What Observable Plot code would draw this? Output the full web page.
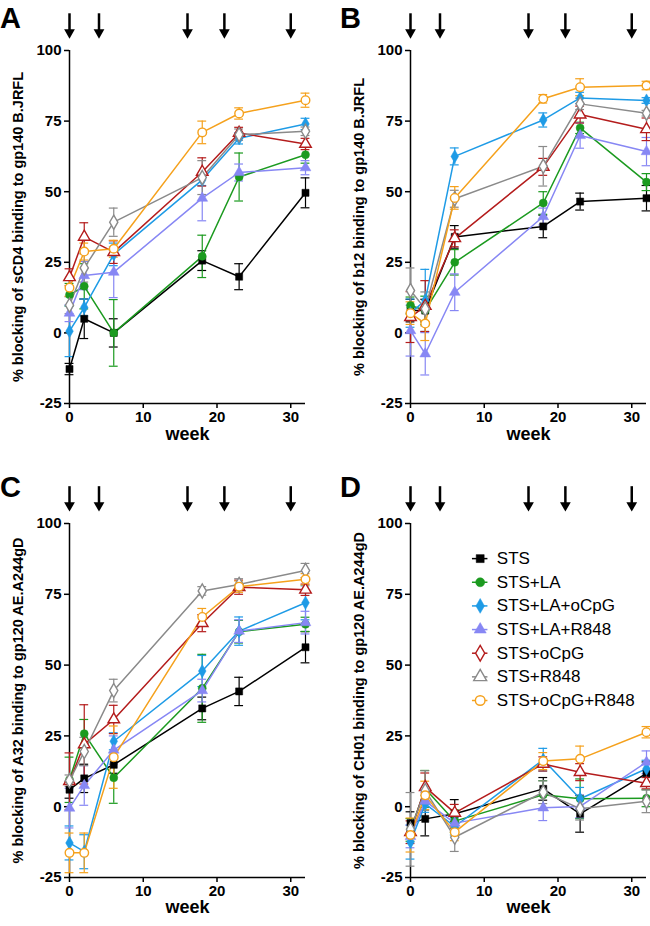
<!DOCTYPE html>
<html>
<head>
<meta charset="utf-8">
<script src="https://cdn.jsdelivr.net/npm/d3@7"></script>
<script src="https://cdn.jsdelivr.net/npm/@observablehq/plot@0.6"></script>
<style>
  html, body { margin: 0; padding: 0; background: #fff; }
  #wrap { position: relative; width: 650px; height: 926px; background: #fff; overflow: hidden; }
  .panel { position: absolute; }
  .letter { position: absolute; font-family: "Liberation Sans", Arial, sans-serif; font-weight: bold; font-size: 29px; line-height: 29px; color: #000; }
</style>
</head>
<body>
<div id="wrap"></div>
<script>
const weeks = [0, 2, 6, 18, 23, 32];
const groups = ["STS", "STS+LA", "STS+LA+oCpG", "STS+LA+R848", "STS+oCpG", "STS+R848", "STS+oCpG+R848"];
const colors = ["#000000", "#1b9a1f", "#1e9be6", "#8787f4", "#b41c1c", "#8a8a8a", "#f5a11c"];
const plotSymbols = ["square", "circle", "diamond", "triangle", "triangle", "diamond", "circle"];
const legendSymbols = ["square", "circle", "diamond", "triangle", "diamond", "triangle", "circle"];
const filled = [true, true, true, true, false, false, false];
const arrowWeeks = [0, 4, 16, 21, 30];
const xTicks = [0, 10, 20, 30];
const yTicks = [-25, 0, 25, 50, 75, 100];
const panelLetters = ["A", "B", "C", "D"];
const yLabels = [
  "% blocking of sCD4 binding to gp140 B.JRFL",
  "% blocking of b12 binding to gp140 B.JRFL",
  "% blocking of A32 binding to gp120 AE.A244gD",
  "% blocking of CH01 binding to gp120 AE.A244gD"
];

// means (rows follow groups, columns follow weeks)
const meanA = [
  [-12.8, 5, 0, 25.6, 19.9, 49.6],
  [13.5, 16.5, 0, 27.1, 55.2, 63.1],
  [0.6, 9, 27.8, 54.2, 68.9, 74],
  [7, 20.3, 21.5, 47.7, 56.8, 58.5],
  [19.7, 34, 28.6, 57, 70.8, 66.9],
  [9.8, 23, 39.2, 55, 70.2, 71.4],
  [16, 28.8, 29.8, 71, 77.7, 82.4]
];
const errA = [
  [2, 7, 5, 3.5, 4.6, 5.3],
  [4, 8, 11.8, 7.5, 8.5, 3],
  [9, 3, 4, 2, 2, 2],
  [3, 5, 9, 8, 3, 2.5],
  [3, 5, 4, 5, 2, 2],
  [3, 5, 5, 6, 2, 1.5],
  [3, 3, 3, 4, 2, 2.5]
];
const meanB = [
  [7.9, 7.9, 34, 37.7, 46.5, 47.7],
  [9.7, 8, 25, 46, 72.6, 53.4],
  [7, 11.5, 62.5, 75.4, 83.2, 82.3],
  [0.8, -7.4, 14.4, 41.2, 69.9, 64.2],
  [5.6, 9.5, 33.5, 58.8, 77.3, 72.1],
  [15, 8.5, 47.5, 59, 81.1, 77.8],
  [7, 3.3, 47.8, 82.9, 87, 87.6]
];
const errB = [
  [4, 4, 4, 4, 3, 4.5],
  [3, 5, 4.5, 4, 2, 3],
  [5, 11, 3, 2.5, 2, 1],
  [9, 7.5, 6.5, 3, 4.5, 5],
  [9, 9, 3, 3, 3, 4],
  [8, 6, 3, 7, 2, 1],
  [4, 6, 4, 1.5, 3, 1.5]
];
const meanC = [
  [6, 10, 14.8, 34.7, 40.7, 56.3],
  [9.5, 25.8, 10.2, 41.8, 61.8, 64.4],
  [-12.8, -15.9, 23.1, 47.9, 62, 72],
  [-0.5, 7.5, 20, 41, 62, 65],
  [9, 22, 30.8, 64.8, 77.5, 76.6],
  [9.2, 19.5, 41, 76.2, 78.5, 83.4],
  [-16.3, -16.3, 17.5, 67, 77.7, 80.3]
];
const errC = [
  [3, 5, 3, 4, 5, 5.5],
  [8, 5, 9, 12, 4, 2.5],
  [6, 6, 3, 5.5, 5, 6],
  [7, 7, 5, 4, 4, 4],
  [10, 14, 5, 3, 2.5, 2],
  [2, 5, 4, 1.5, 2, 2.5],
  [7, 7, 11, 3, 2, 2]
];
const meanD = [
  [-5.8, -4.3, -2.5, 6.3, -2.5, 11.8],
  [-8.2, 6.3, -5.1, 4.2, 2.8, 3],
  [-12.5, 1, -7, 16.6, 2.8, 13.4],
  [-10.5, 2, -5.8, -0.4, 0.1, 15.7],
  [-9, 6.9, -2.2, 15.1, 12.2, 8.3],
  [-8, 5.7, -10.8, 5.1, -0.7, 1.9],
  [-10, 4, -9, 16.1, 16.9, 26.3]
];
const errD = [
  [4, 6, 5, 4, 6.5, 4],
  [4, 6.5, 4, 5, 7, 3],
  [6, 3, 3, 4, 4, 3],
  [4, 3, 3, 4.5, 4, 4],
  [4, 5, 3, 2.5, 3, 2],
  [13, 7, 5, 4, 4, 4],
  [6, 5, 3, 3, 4.5, 2]
];

const means = [meanA, meanB, meanC, meanD];
const errs = [errA, errB, errC, errD];

// layout of the four panels
const layouts = [
  {left: 0,   top: 0,   width: 325, height: 460, ml: 69, mr: 20, mt: 50, mb: 57, weekDy: 36, letterLeft: 0,   letterTop: 3.5},
  {left: 325, top: 0,   width: 325, height: 460, ml: 85, mr: 4,  mt: 50, mb: 57, weekDy: 36, letterLeft: 340, letterTop: 3.5},
  {left: 0,   top: 460, width: 325, height: 466, ml: 69, mr: 20, mt: 63, mb: 49, weekDy: 35, letterLeft: 0,   letterTop: 472.5},
  {left: 325, top: 460, width: 325, height: 466, ml: 85, mr: 4,  mt: 63, mb: 49, weekDy: 35, letterLeft: 340, letterTop: 472.5}
];

const FONT = "Liberation Sans, Arial, Helvetica, sans-serif";
const wrap = document.getElementById("wrap");

layouts.forEach((L, p) => {
  const rows = [];
  groups.forEach((g, gi) => {
    weeks.forEach((w, wi) => {
      rows.push({g, gi, w, v: means[p][gi][wi], e: errs[p][gi][wi]});
    });
  });

  const marks = [];
  // axis lines
  marks.push(Plot.ruleY([-25], {stroke: "#000", strokeWidth: 1.5}));
  marks.push(Plot.ruleX([0], {stroke: "#000", strokeWidth: 1.5}));
  marks.push(Plot.axisX({ticks: xTicks, tickSize: 5, tickPadding: 3, tickFormat: d => String(d), label: null, fontSize: 15, fontWeight: "bold", strokeWidth: 1.5}));
  marks.push(Plot.axisY({ticks: yTicks, tickSize: 5, tickPadding: 3, tickFormat: d => String(d), label: null, fontSize: 15, fontWeight: "bold", strokeWidth: 1.5}));

  // error bars
  groups.forEach((g, gi) => {
    const d = rows.filter(r => r.gi === gi);
    const c = colors[gi];
    marks.push(Plot.ruleX(d, {x: "w", y1: r => r.v - r.e, y2: r => r.v + r.e, stroke: c, strokeWidth: 1.2}));
    marks.push(Plot.ruleY(d, {y: r => r.v + r.e, x1: r => r.w - 0.6, x2: r => r.w + 0.6, stroke: c, strokeWidth: 1.2}));
    marks.push(Plot.ruleY(d, {y: r => r.v - r.e, x1: r => r.w - 0.6, x2: r => r.w + 0.6, stroke: c, strokeWidth: 1.2}));
  });
  // lines
  groups.forEach((g, gi) => {
    const d = rows.filter(r => r.gi === gi);
    marks.push(Plot.line(d, {x: "w", y: "v", stroke: colors[gi], strokeWidth: 1.5}));
  });
  // markers
  groups.forEach((g, gi) => {
    const d = rows.filter(r => r.gi === gi);
    marks.push(Plot.dot(d, {
      x: "w", y: "v", symbol: plotSymbols[gi], r: filled[gi] ? 4 : 4.3,
      fill: filled[gi] ? colors[gi] : "#fff",
      stroke: colors[gi], strokeWidth: filled[gi] ? 0.5 : 1.4
    }));
  });

  // vaccination arrows
  marks.push(Plot.ruleX(arrowWeeks, {x: d => d, y1: 113, y2: 106.5, stroke: "#000", strokeWidth: 2.5}));
  marks.push(Plot.dot(arrowWeeks, {x: d => d, y: 106.4, symbol: "triangle", rotate: 180, r: 4, fill: "#000", stroke: "none"}));

  // axis titles
  marks.push(Plot.text([yLabels[p]], {frameAnchor: "left", text: d => d, textAnchor: "middle", rotate: -90, dx: -51, fontSize: 14.5, fontWeight: "bold", fill: "#000"}));
  marks.push(Plot.text(["week"], {frameAnchor: "bottom", text: d => d, dy: L.weekDy, fontSize: 18, fontWeight: "bold", fill: "#000"}));

  // legend in panel D
  if (p === 3) {
    const ly = i => 87.6 - i * 8.35;
    const leg = groups.map((g, gi) => ({g, gi, y: ly(gi)}));
    marks.push(Plot.ruleY(leg, {y: "y", x1: 8.4, x2: 10.5, stroke: d => colors[d.gi], strokeWidth: 1.5}));
    leg.forEach(d => {
      marks.push(Plot.dot([d], {x: 9.45, y: "y", symbol: legendSymbols[d.gi], r: filled[d.gi] ? 4.5 : 4.8,
        fill: filled[d.gi] ? colors[d.gi] : "#fff", stroke: colors[d.gi], strokeWidth: filled[d.gi] ? 0.5 : 1.4}));
    });
    marks.push(Plot.text(leg, {x: 11.7, y: "y", text: "g", textAnchor: "start", fontSize: 17, fontWeight: "normal", fill: "#000"}));
  }

  const svg = Plot.plot({
    width: L.width,
    height: L.height,
    marginLeft: L.ml,
    marginRight: L.mr,
    marginTop: L.mt,
    marginBottom: L.mb,
    style: {fontFamily: FONT, fontSize: "15px", fontWeight: "bold", color: "#000", background: "transparent", overflow: "visible"},
    x: {domain: [0, 32], axis: null},
    y: {domain: [-25, 100], axis: null},
    marks
  });
  const div = document.createElement("div");
  div.className = "panel";
  div.style.left = L.left + "px";
  div.style.top = L.top + "px";
  div.appendChild(svg);
  wrap.appendChild(div);

  const letter = document.createElement("div");
  letter.className = "letter";
  letter.style.left = L.letterLeft + "px";
  letter.style.top = L.letterTop + "px";
  letter.textContent = panelLetters[p];
  wrap.appendChild(letter);
});
</script>
</body>
</html>
